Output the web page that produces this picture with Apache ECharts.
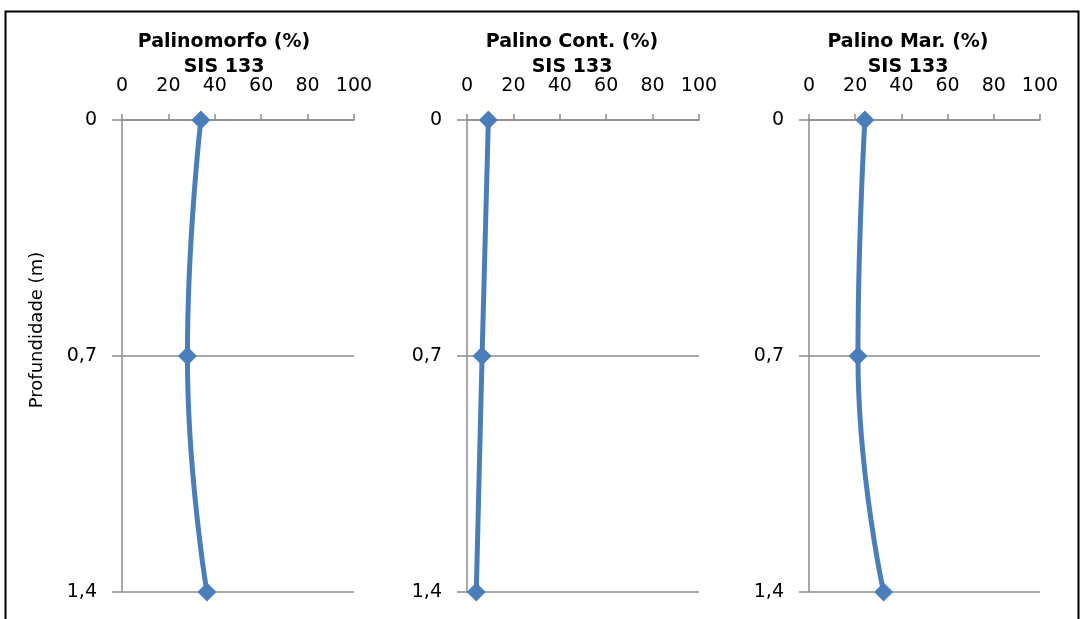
<!DOCTYPE html>
<html>
<head>
<meta charset="utf-8">
<script src="https://cdn.jsdelivr.net/npm/echarts@6/dist/echarts.min.js"></script>
<style>
  html, body { margin: 0; padding: 0; background: #fff; }
  #chart { width: 1084px; height: 619px; }
</style>
</head>
<body>
<div id="chart"></div>
<script>
// Depth levels (m) and percentages of each palynomorph group, core SIS 133
const depths = [0, 0.7, 1.4];
const palinomorfo = [34, 28.2, 36.6];
const palinoCont = [9.2, 6.5, 4.0];
const palinoMar = [24.2, 21.2, 32.3];

const panelTitles = ['Palinomorfo (%)', 'Palino Cont. (%)', 'Palino Mar. (%)'];
const coreName = 'SIS 133';
const percentTicks = [0, 20, 40, 60, 80, 100];
const depthAxisName = 'Profundidade (m)';

const panelValues = [palinomorfo, palinoCont, palinoMar];

// Plot areas for the three side-by-side panels
const grids = [
  { left: 122, width: 232 },
  { left: 467, width: 232 },
  { left: 809, width: 231 }
];
const titleCenters = [219, 567, 903];

const FONT = 'DejaVu Sans';
const AXIS_GRAY = '#8c8c8c';
const LINE_BLUE = '#4a7ebb';

const option = {
  animation: false,
  backgroundColor: '#ffffff',
  textStyle: { fontFamily: FONT },
  title: panelTitles.map((t, i) => ({
    text: t + '\n' + coreName,
    left: titleCenters[i],
    top: 25,
    textAlign: 'center',
    textStyle: { fontFamily: FONT, fontSize: 19, fontWeight: 'bold', color: '#000', lineHeight: 25 }
  })),
  grid: grids.map(g => ({ left: g.left, width: g.width, top: 120, height: 472 })),
  xAxis: grids.map((g, i) => ({
    type: 'value',
    gridIndex: i,
    position: 'top',
    min: percentTicks[0],
    max: percentTicks[percentTicks.length - 1],
    interval: 20,
    axisLine: { show: true, lineStyle: { color: AXIS_GRAY, width: 1.5 } },
    axisTick: { show: true, length: 6, lineStyle: { color: AXIS_GRAY, width: 1.5 } },
    axisLabel: { fontFamily: FONT, fontSize: 19, color: '#000', margin: 24 },
    splitLine: { show: false }
  })),
  yAxis: grids.map((g, i) => ({
    type: 'value',
    gridIndex: i,
    inverse: true,
    min: depths[0],
    max: depths[depths.length - 1],
    interval: 0.7,
    axisLine: { show: true, lineStyle: { color: AXIS_GRAY, width: 1.5 } },
    axisTick: { show: true, length: 10, lineStyle: { color: AXIS_GRAY, width: 1.5 } },
    axisLabel: {
      fontFamily: FONT, fontSize: 19, color: '#000', margin: 25,
      formatter: v => String(Math.round(v * 10) / 10).replace('.', ',')
    },
    splitLine: { show: true, lineStyle: { color: AXIS_GRAY, width: 1.5 } }
  })),
  series: panelValues.map((vals, i) => ({
    type: 'line',
    xAxisIndex: i,
    yAxisIndex: i,
    smooth: 0.5,
    data: vals.map((v, k) => [v, depths[k]]),
    lineStyle: { color: LINE_BLUE, width: 5 },
    itemStyle: { color: LINE_BLUE },
    symbol: 'diamond',
    symbolSize: 19,
    z: 5
  })),
  graphic: [
    {
      type: 'rect',
      shape: { x: 5.5, y: 11.5, width: 1073, height: 640 },
      style: { fill: 'none', stroke: '#000', lineWidth: 2 },
      silent: true
    },
    {
      type: 'text',
      x: 37, y: 330,
      rotation: Math.PI / 2,
      style: {
        text: depthAxisName,
        fontFamily: FONT, fontSize: 18, fill: '#000',
        align: 'center', verticalAlign: 'middle'
      }
    }
  ]
};

const chart = echarts.init(document.getElementById('chart'), null, { renderer: 'canvas' });
chart.setOption(option);
</script>
</body>
</html>
